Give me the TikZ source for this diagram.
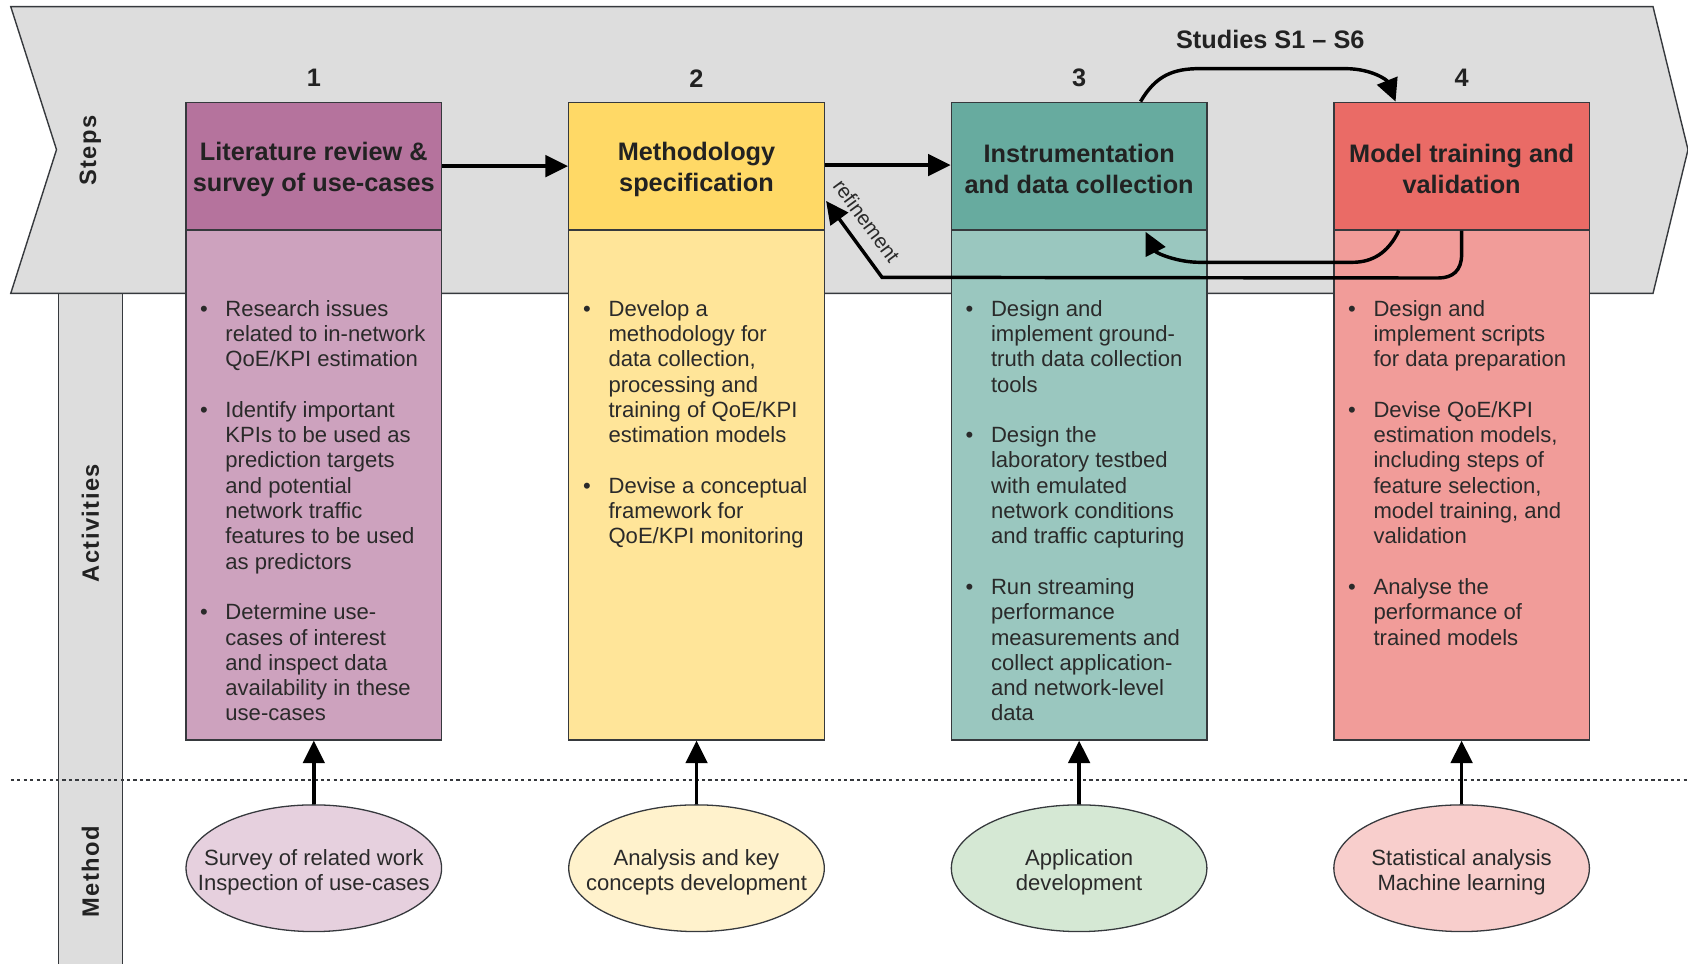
\documentclass[tikz,border=0pt]{standalone}
\usepackage{fontspec}
\setmainfont{Liberation Sans}
\newfontfamily\spacedfont[LetterSpace=6]{Liberation Sans}
\usetikzlibrary{arrows.meta,shapes.geometric,calc}
\definecolor{purpH}{HTML}{B5739D}
\definecolor{purpB}{HTML}{CDA2BE}
\definecolor{purpE}{HTML}{E6D0DE}
\definecolor{yelH}{HTML}{FFD966}
\definecolor{yelB}{HTML}{FFE599}
\definecolor{yelE}{HTML}{FFF2CC}
\definecolor{grnH}{HTML}{67AB9F}
\definecolor{grnB}{HTML}{9AC7BF}
\definecolor{grnE}{HTML}{D5E8D4}
\definecolor{redH}{HTML}{EA6B66}
\definecolor{redB}{HTML}{F19C99}
\definecolor{redE}{HTML}{F8CECC}
\definecolor{bannerfill}{HTML}{DDDDDD}
\definecolor{edge}{HTML}{36393D}
\definecolor{txt}{HTML}{222222}
\definecolor{txtb}{HTML}{2A2A2A}
\begin{document}
\begin{tikzpicture}[x=1pt,y=-1pt,
  hdr/.style={draw=edge, line width=1.3pt, minimum width=237.4pt, minimum height=118.6pt, inner sep=0pt},
  hdrtext/.style={inner sep=0pt, align=center, text=txt, font=\bfseries\fontsize{23.5}{28.8}\selectfont},
  bodybox/.style={draw=edge, line width=1.3pt, minimum width=237.4pt, minimum height=473.7pt, inner sep=0pt},
  bodytext/.style={anchor=north west, inner sep=0pt, align=left, text=txtb,
    font=\fontsize{20.5}{23.5}\selectfont},
  meth/.style={ellipse, draw=edge, line width=1.2pt, minimum width=237.4pt, minimum height=117.7pt, inner sep=0pt},
  methtext/.style={align=center, inner sep=0pt, text=txtb, font=\fontsize{20.5}{23.2}\selectfont},
  numlbl/.style={text=txt, inner sep=0pt, font=\bfseries\fontsize{23.5}{28}\selectfont},
  sidelbl/.style={rotate=90, inner sep=0pt, text=txt, font=\spacedfont\bfseries\fontsize{22}{26}\selectfont},
  arr/.style={line width=3.2pt, draw=black, -{Triangle[length=21pt,width=20pt]}},
]
\useasboundingbox (0,0) rectangle (1568,895);
\newcommand{\bl}{\llap{\textbullet\hspace{16.4pt}}}

% left column
\path[fill=bannerfill, draw=edge, line width=1.3pt] (54.2,272.5) rectangle (113.6,900);
% banner
\path[fill=bannerfill, draw=edge, line width=1.3pt]
  (10,6.2) -- (1535.5,6.2) -- (1568,139) -- (1535.5,272.5) -- (10,272.5) -- (52.5,139) -- cycle;

% side labels
\node[sidelbl] (sSteps) at (84,140) {Steps};
\node[sidelbl] (sAct) at (84,486) {Activities};
\node[sidelbl] (sMeth) at (84,810) {Method};

% dotted separator
\coordinate (dl) at (10,724.5);
\coordinate (dr) at (1568,724.5);
\draw[edge, line width=1.2pt, dash pattern=on 3pt off 3pt] (dl) -- (dr);

% numbers
\node[numlbl] (n1) at (291.5,72.7) {1};
\node[numlbl] (n2) at (647,72.7) {2};
\node[numlbl] (n3) at (1002.4,72.7) {3};
\node[numlbl] (n4) at (1357.7,72.7) {4};
\node[numlbl] (studies) at (1180,37) {Studies S1 – S6};

% bodies
\node[bodybox, fill=purpB] (b1) at (291.5,450.45) {};
\node[bodybox, fill=yelB] (b2) at (647,450.45) {};
\node[bodybox, fill=grnB] (b3) at (1002.4,450.45) {};
\node[bodybox, fill=redB] (b4) at (1357.7,450.45) {};

% headers
\node[hdr, fill=purpH] (h1) at (291.5,154.3) {};
\node[hdr, fill=yelH] (h2) at (647,154.3) {};
\node[hdr, fill=grnH] (h3) at (1002.4,154.3) {};
\node[hdr, fill=redH] (h4) at (1357.7,154.3) {};
\node[hdrtext] (ht1) at ($(h1)+(0,2.8)$) {Literature review \&\\survey of use-cases};
\node[hdrtext] (ht2) at ($(h2)+(0,2.8)$) {Methodology\\specification};
\node[hdrtext] (ht3) at ($(h3)+(0,2.8)$) {Instrumentation\\and data collection};
\node[hdrtext] (ht4) at ($(h4)+(0,2.8)$) {Model training and\\validation};

% body texts
\node[bodytext] (t1) at (209.2,277) {\strut\bl Research issues\\related to in-network\\QoE/KPI estimation\\[23.5pt]
\bl Identify important\\KPIs to be used as\\prediction targets\\and potential\\network traffic\\features to be used\\as predictors\\[23.5pt]
\bl Determine use-\\cases of interest\\and inspect data\\availability in these\\use-cases};
\node[bodytext] (t2) at (565.1,277) {\strut\bl Develop a\\methodology for\\data collection,\\processing and\\training of QoE/KPI\\estimation models\\[23.5pt]
\bl Devise a conceptual\\framework for\\QoE/KPI monitoring};
\node[bodytext] (t3) at (920.4,277) {\strut\bl Design and\\implement ground-\\truth data collection\\tools\\[23.5pt]
\bl Design the\\laboratory testbed\\with emulated\\network conditions\\and traffic capturing\\[23.5pt]
\bl Run streaming\\performance\\measurements and\\collect application-\\and network-level\\data};
\node[bodytext] (t4) at (1275.7,277) {\strut\bl Design and\\implement scripts\\for data preparation\\[23.5pt]
\bl Devise QoE/KPI\\estimation models,\\including steps of\\feature selection,\\model training, and\\validation\\[23.5pt]
\bl Analyse the\\performance of\\trained models};

% method ellipses
\node[meth, fill=purpE] (e1) at (291.5,806.5) {};
\node[meth, fill=yelE] (e2) at (647,806.5) {};
\node[meth, fill=grnE] (e3) at (1002.4,806.5) {};
\node[meth, fill=redE] (e4) at (1357.7,806.5) {};
\node[methtext] (m1) at ($(e1)+(0,3.5)$) {Survey of related work\\Inspection of use-cases};
\node[methtext] (m2) at ($(e2)+(0,3.5)$) {Analysis and key\\concepts development};
\node[methtext] (m3) at ($(e3)+(0,3.5)$) {Application\\development};
\node[methtext] (m4) at ($(e4)+(0,3.5)$) {Statistical analysis\\Machine learning};

% method arrows
\draw[arr] (e1.north) -- (b1.south);
\draw[arr] (e2.north) -- (b2.south);
\draw[arr] (e3.north) -- (b3.south);
\draw[arr] (e4.north) -- (b4.south);

% step arrows
\draw[arr] (h1.east) -- (h2.west);
\draw[arr] ($(h2.east)+(0,-1)$) -- ($(h3.west)+(0,-1)$);

% studies loop
\coordinate (s3) at ($(h3.north west)+(176.4,0)$);
\coordinate (s4) at ($(h4.north west)+(58,0)$);
\draw[arr] (s3) .. controls ($(s3)+(14,-24)$) and ($(s3)+(30,-30.6)$) .. ($(s3)+(55,-30.6)$)
  -- ($(s4)+(-47,-30.6)$) .. controls ($(s4)+(-22,-30.6)$) and ($(s4)+(-8,-20)$) .. (s4);

% return loop
\coordinate (r4) at ($(h4.south west)+(61,0)$);
\coordinate (r3) at ($(h3.south west)+(181,1)$);
\draw[arr] (r4) .. controls ($(r4)+(-10,21)$) and ($(r4)+(-25,29.4)$) .. ($(r4)+(-43,29.4)$)
  -- ($(r3)+(50,28.4)$) .. controls ($(r3)+(30,28.4)$) and ($(r3)+(10,20)$) .. (r3);

% refinement
\coordinate (rf1) at (814.3,257.6);
\coordinate (rf0) at ($(h4.south)+(0,22)$);
\coordinate (rf2) at ($(h2.north east)+(1,92.3)$);
\draw[arr] (h4.south) -- (rf0) .. controls ($(rf0)+(0,15)$) and ($(rf0)+(-8,22)$) .. ($(rf0)+(-22,22)$)
  -- ($(rf1)+(5,0)$) -- (rf2);
\node[rotate=-53.5, inner sep=0pt, text=txtb, font=\fontsize{19}{22}\selectfont] (rlab) at (805,205) {refinement};
\end{tikzpicture}
\end{document}
